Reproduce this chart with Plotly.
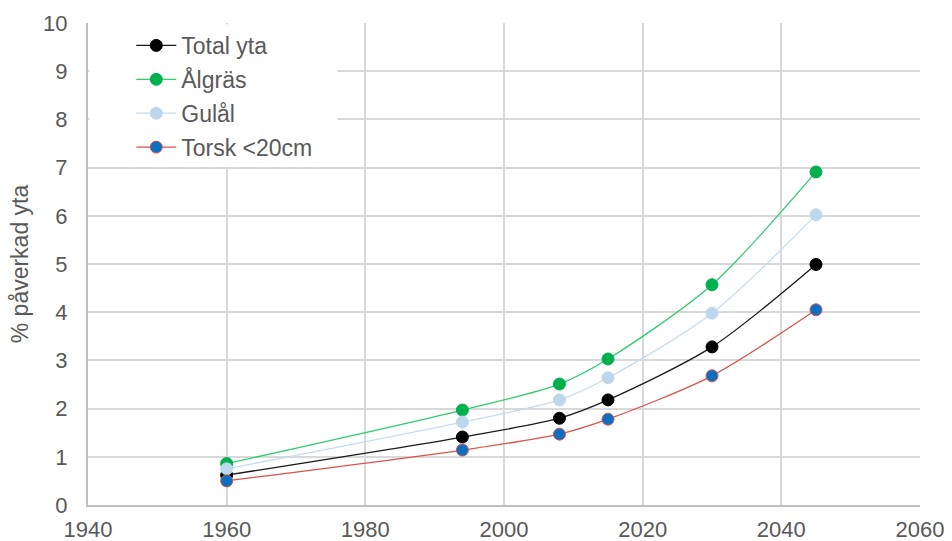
import plotly.graph_objects as go

# Years and share of affected area (%) per series
years = [1960, 1994, 2008, 2015, 2030, 2045]
total_yta = [0.62, 1.41, 1.80, 2.18, 3.28, 4.99]
algras = [0.86, 1.97, 2.51, 3.03, 4.57, 6.91]
gulal = [0.75, 1.72, 2.18, 2.64, 3.98, 6.02]
torsk = [0.50, 1.14, 1.47, 1.78, 2.68, 4.05]

x_ticks = [1940, 1960, 1980, 2000, 2020, 2040, 2060]
y_ticks = list(range(0, 11))

series = [
    ("Total yta", total_yta, "#1a1a1a", "black", "black"),
    ("Ålgräs", algras, "#2ecc71", "#00b04f", "#00b04f"),
    ("Gulål", gulal, "#c5dcf0", "#bdd7ee", "#bdd7ee"),
    ("Torsk <20cm", torsk, "#d9534f", "#0b6fc2", "#d9534f"),
]

fig = go.Figure()
for name, vals, line_col, fill_col, edge_col in series:
    fig.add_trace(go.Scatter(
        x=years, y=vals, name=name, legendgroup=name, mode="lines+markers",
        line=dict(color=line_col, width=1.3, shape="spline", smoothing=0.8),
        marker=dict(size=12, color=fill_col, line=dict(color=edge_col, width=1)),
    ))

family = "Liberation Sans, Arial, sans-serif"
tick_font = dict(family=family, size=22, color="#595959")

# White panel behind the legend, covering the gridlines in the upper-left corner
fig.add_shape(
    type="rect", xref="paper", yref="paper",
    x0=0.0015, x1=0.30, y0=0.702, y1=0.997,
    fillcolor="white", line=dict(width=0), layer="above",
)

fig.update_layout(
    width=952, height=541,
    margin=dict(l=88, r=32, t=23, b=36),
    paper_bgcolor="white", plot_bgcolor="white",
    font=tick_font,
    showlegend=True,
    legend=dict(
        x=0.052, y=0.998, xanchor="left", yanchor="top",
        bgcolor="rgba(255,255,255,0)", borderwidth=0,
        font=dict(family=family, size=23, color="#595959"),
        tracegroupgap=1, itemwidth=40,
    ),
    xaxis=dict(
        range=[1940, 2060], tickvals=x_ticks, showgrid=True,
        gridcolor="#d9d9d9", gridwidth=2,
        showline=True, linecolor="#bfbfbf", linewidth=2,
        zeroline=False, ticks="", tickfont=tick_font,
        ticklabelstandoff=4, automargin=False,
    ),
    yaxis=dict(
        range=[0, 10], tickvals=y_ticks, showgrid=True,
        gridcolor="#d9d9d9", gridwidth=2,
        showline=True, linecolor="#bfbfbf", linewidth=2,
        zeroline=False, ticks="", tickfont=tick_font,
        ticklabelstandoff=14, automargin=False,
        title=dict(text="% påverkad yta",
                   font=dict(family=family, size=23, color="#595959"),
                   standoff=8),
    ),
)

fig.write_html("out.html")
